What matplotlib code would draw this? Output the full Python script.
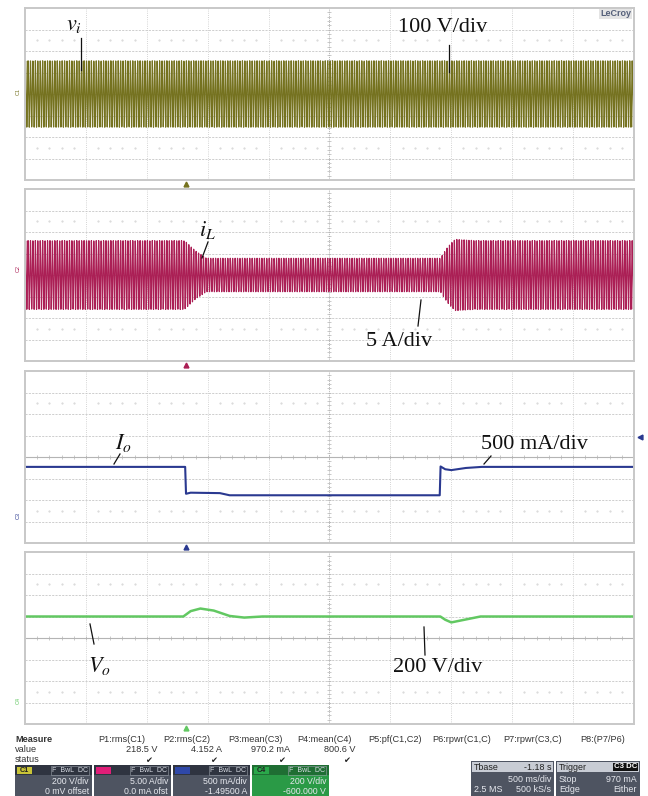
import numpy as np
import matplotlib
matplotlib.use("Agg")
import matplotlib.pyplot as plt
from matplotlib.patches import Rectangle
from matplotlib.lines import Line2D

plt.rcParams['mathtext.fontset'] = 'stix'
plt.rcParams['font.family'] = ['Liberation Sans', 'DejaVu Sans']

# -----------------------------------------------------------------------------
# scope settings (per division) and data
# -----------------------------------------------------------------------------
T_DIV = 0.5                      # 500 ms/div, 10 divisions
TBASE = -1.18                    # trigger delay from screen centre, s
LINE_HZ = 50.0

VI_DIV, VI_OFS = 200.0, 0.0      # V/div, V
IL_DIV, IL_OFS = 5.0, 0.0        # A/div, A
IO_DIV, IO_OFS = 0.5, -1.495     # A/div, A
VO_DIV, VO_OFS = 200.0, -600.0   # V/div, V

# input voltage: constant mains peak
vi_t = [0.0, 5.0]
vi_peak = [309.0, 309.0]

# inductor current peak envelope
il_t = [0.0, 1.31, 1.40, 1.49, 3.41, 3.47, 3.53, 3.70, 5.0]
il_peak = [8.0, 8.0, 5.6, 3.9, 3.9, 6.5, 8.3, 8.0, 8.0]

# output current
io_t = [0.0, 1.315, 1.322, 1.36, 1.60, 1.68, 3.405, 3.412, 3.45, 3.50, 3.62, 3.75, 5.0]
io_a = [1.265, 1.265, 0.64, 0.665, 0.655, 0.605, 0.605, 1.275, 1.21, 1.19, 1.24, 1.265, 1.265]

# output voltage
vo_t = [0.0, 1.30, 1.36, 1.44, 1.55, 1.68, 1.80, 1.95, 3.41, 3.45, 3.50, 3.60, 3.74, 5.0]
vo_v = [800.0, 800.0, 850.0, 874.0, 855.0, 805.0, 790.0, 800.0, 800.0, 770.0, 745.0, 768.0, 800.0, 800.0]

C_VI = '#75721f'
C_IL = '#ab1f55'
C_IO = '#2a3990'
C_VO = '#62c862'
C_GRID = '#c6c6c6'

W, H = 648, 796
fig = plt.figure(figsize=(W / 100, H / 100), dpi=100)
fig.patch.set_facecolor('white')

LEFT, PW, PH = 25, 609, 172
TOPS = [8, 189, 371, 552]


def panel(top):
    ax = fig.add_axes([LEFT / W, 1 - (top + PH) / H, PW / W, PH / H])
    ax.set_xlim(0, 10 * T_DIV)
    ax.set_ylim(-4, 4)
    ax.set_xticks([])
    ax.set_yticks([])
    for s in ax.spines.values():
        s.set_color('#c8c8c8')
        s.set_linewidth(1.4)
    for k in range(1, 10):
        if k != 5:
            ax.axvline(k * T_DIV, color=C_GRID, lw=0.6, ls=(0, (1, 1.6)), zorder=0)
    for k in range(-3, 4):
        if k != 0:
            ax.axhline(k, color=C_GRID, lw=0.6, ls=(0, (2.5, 1.5)), zorder=0)
    ax.axhline(0, color='#b4b4b4', lw=0.8, zorder=0)
    ax.axvline(5 * T_DIV, color='#b4b4b4', lw=0.7, ls=(0, (1, 1)), zorder=0)
    xs = np.arange(1, 50) * T_DIV / 5
    ax.plot(xs, np.zeros_like(xs), ls='none', marker='|', ms=2.6, color='#b4b4b4', mew=0.5, zorder=0)
    ys = np.arange(-19, 20) / 5
    ax.plot(np.full_like(ys, 5 * T_DIV), ys, ls='none', marker='_', ms=2.6, color='#b4b4b4', mew=0.5,
            zorder=0)
    dots = xs[np.abs(xs / T_DIV - np.round(xs / T_DIV)) > 0.05]
    for yy in (2.5, -2.5):
        ax.plot(dots, np.full_like(dots, yy), ls='none', marker='.', ms=1.0, color='#d2d2d2', zorder=0)
    return ax


axes = [panel(t) for t in TOPS]

t = np.linspace(0, 10 * T_DIV, 5413)
carrier = np.sin(2 * np.pi * LINE_HZ * t)

vi = np.interp(t, vi_t, vi_peak) * carrier
axes[0].plot(t, (vi - VI_OFS) / VI_DIV, color=C_VI, lw=0.85)

il = np.interp(t, il_t, il_peak) * carrier
axes[1].plot(t, (il - IL_OFS) / IL_DIV, color=C_IL, lw=0.85)

io = np.array(io_a)
axes[2].plot(io_t, (io + IO_OFS) / IO_DIV, color=C_IO, lw=1.5)

vo = np.array(vo_v)
axes[3].plot(vo_t, (vo + VO_OFS) / VO_DIV, color=C_VO, lw=1.8)

# trigger position markers under each grid
trig_t = 5 * T_DIV + TBASE
for ax, c in zip(axes, [C_VI, C_IL, C_IO, C_VO]):
    ax.plot(trig_t, -4.2, marker='^', ms=3.5, color=c, clip_on=False)
axes[2].plot(10 * T_DIV + 0.05, 0.93, marker='<', ms=3.5, color=C_IO, clip_on=False)

# channel tags at the left
for ax, c, lab, yy in zip(axes, [C_VI, C_IL, C_IO, C_VO], ['C1', 'C2', 'C3', 'C4'],
                          [0.1, 0.3, -2.7, -2.9]):
    ax.text(-0.055, yy, lab, color=c, fontsize=4, rotation=90, ha='center', va='center',
            clip_on=False)

# -----------------------------------------------------------------------------
# overlay in pixel coordinates for labels and the status bar
# -----------------------------------------------------------------------------
ov = fig.add_axes([0, 0, 1, 1], zorder=10)
ov.set_xlim(0, W)
ov.set_ylim(H, 0)
ov.axis('off')
ov.patch.set_alpha(0)

ov.text(631, 14, 'LeCroy', fontsize=6.5, fontweight='bold', color='#55607a', ha='right', va='center',
        bbox=dict(boxstyle='square,pad=0.1', fc='#e4e4e4', ec='none'))

ser = ['Liberation Serif', 'DejaVu Serif']
lab_kw = dict(fontsize=16, color='#111111', family=ser)


def note(x, y, s, x1, y1, x2, y2, ha='left'):
    ov.text(x, y, s, ha=ha, va='baseline', **lab_kw)
    ov.add_line(Line2D([x1, x2], [y1, y2], color='#111111', lw=0.9))


note(66, 30, r'$v_i$', 81, 38, 81, 70)
note(398, 32, '100 V/div', 449, 45, 449, 72)
note(199, 236, r'$i_L$', 208, 242, 202, 258)
note(366, 346, '5 A/div', 421, 300, 418, 326)
note(115, 449, r'$I_o$', 120, 454, 114, 464)
note(481, 449, '500 mA/div', 491, 456, 484, 464)
note(88, 672, r'$V_o$', 90, 624, 94, 644)
note(393, 672, '200 V/div', 424, 627, 425, 655)

# measurement table
sm = dict(fontsize=6.6, color='#333333', va='center')
ov.text(15, 739, 'Measure', fontweight='bold', ha='left', **sm)
ov.text(15, 749.5, 'value', ha='left', **sm)
ov.text(15, 760, 'status', ha='left', **sm)

heads = ['P1:rms(C1)', 'P2:rms(C2)', 'P3:mean(C3)', 'P4:mean(C4)',
         'P5:pf(C1,C2)', 'P6:rpwr(C1,C)', 'P7:rpwr(C3,C)', 'P8:(P7/P6)']
head_x = [98, 163, 228, 297, 368, 432, 503, 580]
vals = ['218.5 V', '4.152 A', '970.2 mA', '800.6 V']
val_x = [157, 222, 290, 355]
for hx, s in zip(head_x, heads):
    ov.text(hx, 739, s, ha='left', **sm)
for vx, s in zip(val_x, vals):
    ov.text(vx, 749.5, s, ha='right', **sm)
    ov.text(vx - 8, 760, '\u2714', ha='center', fontsize=6, color='#222222', va='center',
            family=['DejaVu Sans'])

# channel boxes
box_x = [15, 94, 173, 252]
box_w = 77
tag_c = ['#c9c437', '#e01e78', '#2f48a8', '#2aa84a']
tag_tc = ['#222222', '#e01e78', '#2f48a8', '#222222']
line2 = ['200 V/div', '5.00 A/div', '500 mA/div', '200 V/div']
line3 = ['0 mV offset', '0.0 mA ofst', '-1.49500 A', '-600.000 V']
for i, x0 in enumerate(box_x):
    body = '#2a9a46' if i == 3 else '#4e5461'
    ov.add_patch(Rectangle((x0, 765), box_w, 31, fc=body, ec='none'))
    ov.add_patch(Rectangle((x0, 765), box_w, 10, fc='#2f3440' if i < 3 else '#1f6e33', ec='none'))
    ov.add_patch(Rectangle((x0 + 2, 766.5), 15, 7.5, fc=tag_c[i], ec='none'))
    ov.text(x0 + 9.5, 770.3, 'C%d' % (i + 1), fontsize=5.2, color=tag_tc[i], ha='center',
            va='center', fontweight='bold')
    ov.text(x0 + 73, 770.3, 'F  BwL  DC', fontsize=5, color='#d8dce4', ha='right', va='center',
            bbox=dict(boxstyle='square,pad=0.15', fc='none', ec='#9aa0aa', lw=0.4))
    ov.text(x0 + 74, 782, line2[i], fontsize=6.3, color='#e6e8ee', ha='right', va='center')
    ov.text(x0 + 74, 791, line3[i], fontsize=6.3, color='#e6e8ee', ha='right', va='center')

# timebase and trigger boxes
for x0, w, r1l, r1r, r2l, r2r, r3l, r3r in [
        (471, 83, 'Tbase', '-1.18 s', '', '500 ms/div', '2.5 MS', '500 kS/s'),
        (556, 84, 'Trigger', '', 'Stop', '970 mA', 'Edge', 'Either')]:
    ov.add_patch(Rectangle((x0, 761), w, 35, fc='#4e5461', ec='none'))
    ov.add_patch(Rectangle((x0 + 1, 762), w - 2, 10, fc='#c8ccd4', ec='none'))
    ov.text(x0 + 3, 767, r1l, fontsize=6.4, color='#222222', ha='left', va='center')
    if r1r:
        ov.text(x0 + w - 3, 767, r1r, fontsize=6.4, color='#222222', ha='right', va='center')
    else:
        ov.text(x0 + w - 3, 767, 'C3 DC', fontsize=5.6, color='white', ha='right', va='center',
                fontweight='bold', bbox=dict(boxstyle='square,pad=0.1', fc='#111111', ec='none'))
    ov.text(x0 + 3, 779, r2l, fontsize=6.4, color='#e6e8ee', ha='left', va='center')
    ov.text(x0 + w - 3, 779, r2r, fontsize=6.4, color='#e6e8ee', ha='right', va='center')
    ov.text(x0 + 3, 789.5, r3l, fontsize=6.4, color='#e6e8ee', ha='left', va='center')
    ov.text(x0 + w - 3, 789.5, r3r, fontsize=6.4, color='#e6e8ee', ha='right', va='center')

fig.savefig('out.png', dpi=100)
